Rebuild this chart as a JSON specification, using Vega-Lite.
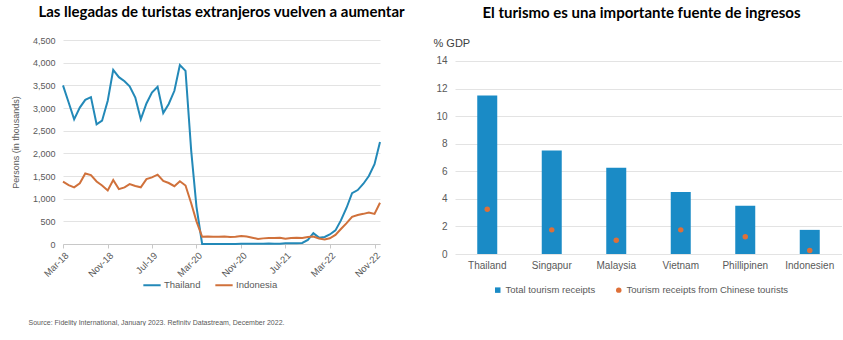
{
  "$schema": "https://vega.github.io/schema/vega-lite/v6.json",
  "padding": {"left": 11, "top": 5, "right": 0, "bottom": 0},
  "background": "white",
  "bounds": "flush",
  "spacing": 75,
  "config": {
    "view": {"stroke": null},
    "font": "Liberation Sans",
    "title": {"font": "Lato", "fontSize": 15, "fontWeight": "bold", "color": "#000000"},
    "axis": {"labelColor": "#595959", "titleColor": "#595959", "gridColor": "#e3e3e3", "domainColor": "#c8c8c8", "tickColor": "#c8c8c8", "labelFont": "Liberation Sans", "titleFont": "Liberation Sans", "titleFontWeight": "normal"},
    "legend": {"labelFont": "Liberation Sans", "labelColor": "#595959", "labelFontSize": 9.5, "labelLimit": 400}
  },
  "title": {"text": "Source: Fidelity International, January 2023. Refinitv Datastream, December 2022.", "orient": "bottom", "anchor": "start", "font": "Liberation Sans", "fontSize": 7, "fontWeight": "normal", "color": "#595959", "offset": 24, "dx": 17},
  "resolve": {"scale": {"color": "independent", "shape": "independent"}, "legend": {"color": "independent", "shape": "independent"}},
  "hconcat": [
    {
      "width": 317,
      "height": 204,
      "title": {"text": "Las llegadas de turistas extranjeros vuelven a aumentar", "offset": 16},
      "data": {"values": [
        {"date": "2018-03-01T00:00:00", "country": "Thailand", "value": 3500},
        {"date": "2018-04-01T00:00:00", "country": "Thailand", "value": 3120},
        {"date": "2018-05-01T00:00:00", "country": "Thailand", "value": 2750},
        {"date": "2018-06-01T00:00:00", "country": "Thailand", "value": 3010},
        {"date": "2018-07-01T00:00:00", "country": "Thailand", "value": 3180},
        {"date": "2018-08-01T00:00:00", "country": "Thailand", "value": 3240},
        {"date": "2018-09-01T00:00:00", "country": "Thailand", "value": 2640},
        {"date": "2018-10-01T00:00:00", "country": "Thailand", "value": 2720},
        {"date": "2018-11-01T00:00:00", "country": "Thailand", "value": 3160},
        {"date": "2018-12-01T00:00:00", "country": "Thailand", "value": 3840},
        {"date": "2019-01-01T00:00:00", "country": "Thailand", "value": 3680},
        {"date": "2019-02-01T00:00:00", "country": "Thailand", "value": 3590},
        {"date": "2019-03-01T00:00:00", "country": "Thailand", "value": 3480},
        {"date": "2019-04-01T00:00:00", "country": "Thailand", "value": 3230},
        {"date": "2019-05-01T00:00:00", "country": "Thailand", "value": 2750},
        {"date": "2019-06-01T00:00:00", "country": "Thailand", "value": 3100},
        {"date": "2019-07-01T00:00:00", "country": "Thailand", "value": 3340},
        {"date": "2019-08-01T00:00:00", "country": "Thailand", "value": 3470},
        {"date": "2019-09-01T00:00:00", "country": "Thailand", "value": 2890},
        {"date": "2019-10-01T00:00:00", "country": "Thailand", "value": 3090},
        {"date": "2019-11-01T00:00:00", "country": "Thailand", "value": 3380},
        {"date": "2019-12-01T00:00:00", "country": "Thailand", "value": 3950},
        {"date": "2020-01-01T00:00:00", "country": "Thailand", "value": 3820},
        {"date": "2020-02-01T00:00:00", "country": "Thailand", "value": 2060},
        {"date": "2020-03-01T00:00:00", "country": "Thailand", "value": 820},
        {"date": "2020-04-01T00:00:00", "country": "Thailand", "value": 0},
        {"date": "2020-05-01T00:00:00", "country": "Thailand", "value": 0},
        {"date": "2020-06-01T00:00:00", "country": "Thailand", "value": 0},
        {"date": "2020-07-01T00:00:00", "country": "Thailand", "value": 0},
        {"date": "2020-08-01T00:00:00", "country": "Thailand", "value": 0},
        {"date": "2020-09-01T00:00:00", "country": "Thailand", "value": 0},
        {"date": "2020-10-01T00:00:00", "country": "Thailand", "value": 1},
        {"date": "2020-11-01T00:00:00", "country": "Thailand", "value": 7},
        {"date": "2020-12-01T00:00:00", "country": "Thailand", "value": 6},
        {"date": "2021-01-01T00:00:00", "country": "Thailand", "value": 6},
        {"date": "2021-02-01T00:00:00", "country": "Thailand", "value": 5},
        {"date": "2021-03-01T00:00:00", "country": "Thailand", "value": 6},
        {"date": "2021-04-01T00:00:00", "country": "Thailand", "value": 9},
        {"date": "2021-05-01T00:00:00", "country": "Thailand", "value": 6},
        {"date": "2021-06-01T00:00:00", "country": "Thailand", "value": 5},
        {"date": "2021-07-01T00:00:00", "country": "Thailand", "value": 18},
        {"date": "2021-08-01T00:00:00", "country": "Thailand", "value": 15},
        {"date": "2021-09-01T00:00:00", "country": "Thailand", "value": 18},
        {"date": "2021-10-01T00:00:00", "country": "Thailand", "value": 22},
        {"date": "2021-11-01T00:00:00", "country": "Thailand", "value": 90},
        {"date": "2021-12-01T00:00:00", "country": "Thailand", "value": 240},
        {"date": "2022-01-01T00:00:00", "country": "Thailand", "value": 140},
        {"date": "2022-02-01T00:00:00", "country": "Thailand", "value": 155},
        {"date": "2022-03-01T00:00:00", "country": "Thailand", "value": 210},
        {"date": "2022-04-01T00:00:00", "country": "Thailand", "value": 300},
        {"date": "2022-05-01T00:00:00", "country": "Thailand", "value": 520},
        {"date": "2022-06-01T00:00:00", "country": "Thailand", "value": 800},
        {"date": "2022-07-01T00:00:00", "country": "Thailand", "value": 1120},
        {"date": "2022-08-01T00:00:00", "country": "Thailand", "value": 1190},
        {"date": "2022-09-01T00:00:00", "country": "Thailand", "value": 1330},
        {"date": "2022-10-01T00:00:00", "country": "Thailand", "value": 1500},
        {"date": "2022-11-01T00:00:00", "country": "Thailand", "value": 1760},
        {"date": "2022-12-01T00:00:00", "country": "Thailand", "value": 2250},
        {"date": "2018-03-01T00:00:00", "country": "Indonesia", "value": 1375},
        {"date": "2018-04-01T00:00:00", "country": "Indonesia", "value": 1300},
        {"date": "2018-05-01T00:00:00", "country": "Indonesia", "value": 1250},
        {"date": "2018-06-01T00:00:00", "country": "Indonesia", "value": 1340},
        {"date": "2018-07-01T00:00:00", "country": "Indonesia", "value": 1555},
        {"date": "2018-08-01T00:00:00", "country": "Indonesia", "value": 1520},
        {"date": "2018-09-01T00:00:00", "country": "Indonesia", "value": 1380},
        {"date": "2018-10-01T00:00:00", "country": "Indonesia", "value": 1290},
        {"date": "2018-11-01T00:00:00", "country": "Indonesia", "value": 1180},
        {"date": "2018-12-01T00:00:00", "country": "Indonesia", "value": 1410},
        {"date": "2019-01-01T00:00:00", "country": "Indonesia", "value": 1210},
        {"date": "2019-02-01T00:00:00", "country": "Indonesia", "value": 1250},
        {"date": "2019-03-01T00:00:00", "country": "Indonesia", "value": 1320},
        {"date": "2019-04-01T00:00:00", "country": "Indonesia", "value": 1280},
        {"date": "2019-05-01T00:00:00", "country": "Indonesia", "value": 1250},
        {"date": "2019-06-01T00:00:00", "country": "Indonesia", "value": 1430},
        {"date": "2019-07-01T00:00:00", "country": "Indonesia", "value": 1470},
        {"date": "2019-08-01T00:00:00", "country": "Indonesia", "value": 1530},
        {"date": "2019-09-01T00:00:00", "country": "Indonesia", "value": 1390},
        {"date": "2019-10-01T00:00:00", "country": "Indonesia", "value": 1345},
        {"date": "2019-11-01T00:00:00", "country": "Indonesia", "value": 1275},
        {"date": "2019-12-01T00:00:00", "country": "Indonesia", "value": 1385},
        {"date": "2020-01-01T00:00:00", "country": "Indonesia", "value": 1290},
        {"date": "2020-02-01T00:00:00", "country": "Indonesia", "value": 900},
        {"date": "2020-03-01T00:00:00", "country": "Indonesia", "value": 500},
        {"date": "2020-04-01T00:00:00", "country": "Indonesia", "value": 160},
        {"date": "2020-05-01T00:00:00", "country": "Indonesia", "value": 165},
        {"date": "2020-06-01T00:00:00", "country": "Indonesia", "value": 160},
        {"date": "2020-07-01T00:00:00", "country": "Indonesia", "value": 158},
        {"date": "2020-08-01T00:00:00", "country": "Indonesia", "value": 164},
        {"date": "2020-09-01T00:00:00", "country": "Indonesia", "value": 154},
        {"date": "2020-10-01T00:00:00", "country": "Indonesia", "value": 158},
        {"date": "2020-11-01T00:00:00", "country": "Indonesia", "value": 175},
        {"date": "2020-12-01T00:00:00", "country": "Indonesia", "value": 164},
        {"date": "2021-01-01T00:00:00", "country": "Indonesia", "value": 140},
        {"date": "2021-02-01T00:00:00", "country": "Indonesia", "value": 113},
        {"date": "2021-03-01T00:00:00", "country": "Indonesia", "value": 124},
        {"date": "2021-04-01T00:00:00", "country": "Indonesia", "value": 134},
        {"date": "2021-05-01T00:00:00", "country": "Indonesia", "value": 131},
        {"date": "2021-06-01T00:00:00", "country": "Indonesia", "value": 137},
        {"date": "2021-07-01T00:00:00", "country": "Indonesia", "value": 116},
        {"date": "2021-08-01T00:00:00", "country": "Indonesia", "value": 130},
        {"date": "2021-09-01T00:00:00", "country": "Indonesia", "value": 140},
        {"date": "2021-10-01T00:00:00", "country": "Indonesia", "value": 135},
        {"date": "2021-11-01T00:00:00", "country": "Indonesia", "value": 155},
        {"date": "2021-12-01T00:00:00", "country": "Indonesia", "value": 165},
        {"date": "2022-01-01T00:00:00", "country": "Indonesia", "value": 120},
        {"date": "2022-02-01T00:00:00", "country": "Indonesia", "value": 100},
        {"date": "2022-03-01T00:00:00", "country": "Indonesia", "value": 125},
        {"date": "2022-04-01T00:00:00", "country": "Indonesia", "value": 200},
        {"date": "2022-05-01T00:00:00", "country": "Indonesia", "value": 330},
        {"date": "2022-06-01T00:00:00", "country": "Indonesia", "value": 460},
        {"date": "2022-07-01T00:00:00", "country": "Indonesia", "value": 600},
        {"date": "2022-08-01T00:00:00", "country": "Indonesia", "value": 640},
        {"date": "2022-09-01T00:00:00", "country": "Indonesia", "value": 665},
        {"date": "2022-10-01T00:00:00", "country": "Indonesia", "value": 695},
        {"date": "2022-11-01T00:00:00", "country": "Indonesia", "value": 665},
        {"date": "2022-12-01T00:00:00", "country": "Indonesia", "value": 910}
      ]},
      "mark": {"type": "line", "strokeWidth": 2},
      "encoding": {
        "x": {
          "field": "date", "type": "temporal",
          "scale": {"domain": [{"year": 2018, "month": 3, "date": 1}, {"year": 2022, "month": 12, "date": 1}]},
          "axis": {
            "title": null, "format": "%b-%y", "labelAngle": -45, "labelFontSize": 9.5, "grid": false, "tickSize": 4, "labelPadding": 2, "labelOverlap": false,
            "values": [
              {"year": 2018, "month": 3, "date": 1}, {"year": 2018, "month": 11, "date": 1},
              {"year": 2019, "month": 7, "date": 1}, {"year": 2020, "month": 3, "date": 1},
              {"year": 2020, "month": 11, "date": 1}, {"year": 2021, "month": 7, "date": 1},
              {"year": 2022, "month": 3, "date": 1}, {"year": 2022, "month": 11, "date": 1}
            ]
          }
        },
        "y": {
          "field": "value", "type": "quantitative",
          "scale": {"domain": [0, 4500], "nice": false},
          "axis": {"values": [0, 500, 1000, 1500, 2000, 2500, 3000, 3500, 4000, 4500], "format": ",.0f", "title": "Persons (in thousands)", "titleFontSize": 9, "labelFontSize": 9, "domain": false, "ticks": false, "labelPadding": 8, "titlePadding": 12}
        },
        "color": {
          "field": "country", "type": "nominal",
          "scale": {"domain": ["Thailand", "Indonesia"], "range": ["#2389b8", "#d0713b"]},
          "legend": {"orient": "none", "legendX": 79, "legendY": 235, "direction": "horizontal", "title": null, "symbolType": "stroke", "symbolStrokeWidth": 2, "symbolSize": 300, "columnPadding": 10, "labelOffset": 2}
        }
      }
    },
    {
      "width": 387,
      "height": 214,
      "title": {"text": "El turismo es una importante fuente de ingresos", "offset": 16, "dx": -7},
      "data": {"values": [
        {"country": "Thailand", "series": "Total tourism receipts", "value": 11.5},
        {"country": "Singapur", "series": "Total tourism receipts", "value": 7.5},
        {"country": "Malaysia", "series": "Total tourism receipts", "value": 6.25},
        {"country": "Vietnam", "series": "Total tourism receipts", "value": 4.5},
        {"country": "Phillipinen", "series": "Total tourism receipts", "value": 3.5},
        {"country": "Indonesien", "series": "Total tourism receipts", "value": 1.75},
        {"country": "Thailand", "series": "Tourism receipts from Chinese tourists", "value": 3.25},
        {"country": "Singapur", "series": "Tourism receipts from Chinese tourists", "value": 1.75},
        {"country": "Malaysia", "series": "Tourism receipts from Chinese tourists", "value": 1.0},
        {"country": "Vietnam", "series": "Tourism receipts from Chinese tourists", "value": 1.75},
        {"country": "Phillipinen", "series": "Tourism receipts from Chinese tourists", "value": 1.25},
        {"country": "Indonesien", "series": "Tourism receipts from Chinese tourists", "value": 0.25}
      ]},
      "encoding": {
        "x": {
          "field": "country", "type": "nominal", "sort": null,
          "scale": {"paddingInner": 0.69, "paddingOuter": 0.345},
          "axis": {"title": null, "labelAngle": 0, "ticks": false, "domain": false, "labelFontSize": 10, "labelPadding": 6}
        },
        "y": {
          "field": "value", "type": "quantitative",
          "scale": {"domain": [0, 15.52], "nice": false},
          "axis": {"values": [0, 2, 4, 6, 8, 10, 12, 14], "labelFontSize": 10, "labelPadding": 8, "domain": false, "ticks": false, "title": "% GDP", "titleAngle": 0, "titleAlign": "left", "titleBaseline": "alphabetic", "titleX": -22, "titleY": 6, "titleFontSize": 11, "titleColor": "#404040"}
        }
      },
      "layer": [
        {
          "transform": [{"filter": "datum.series === 'Total tourism receipts'"}],
          "mark": {"type": "bar"},
          "encoding": {
            "color": {
              "field": "series", "type": "nominal",
              "scale": {"domain": ["Total tourism receipts", "Tourism receipts from Chinese tourists"], "range": ["#1a8bc6", "#de7038"]},
              "legend": {"orient": "none", "legendX": 38, "legendY": 245, "direction": "horizontal", "title": null, "symbolSize": 30, "columnPadding": 18, "labelOffset": 3}
            }
          }
        },
        {
          "transform": [{"filter": "datum.series !== 'Total tourism receipts'"}],
          "mark": {"type": "point", "filled": true, "size": 30, "opacity": 1},
          "encoding": {
            "color": {"field": "series", "type": "nominal"},
            "shape": {
              "field": "series", "type": "nominal",
              "scale": {"domain": ["Total tourism receipts", "Tourism receipts from Chinese tourists"], "range": ["square", "circle"]},
              "legend": {"orient": "none", "legendX": 38, "legendY": 245, "direction": "horizontal", "title": null, "symbolSize": 30, "columnPadding": 18, "labelOffset": 3}
            }
          }
        }
      ]
    }
  ]
}
